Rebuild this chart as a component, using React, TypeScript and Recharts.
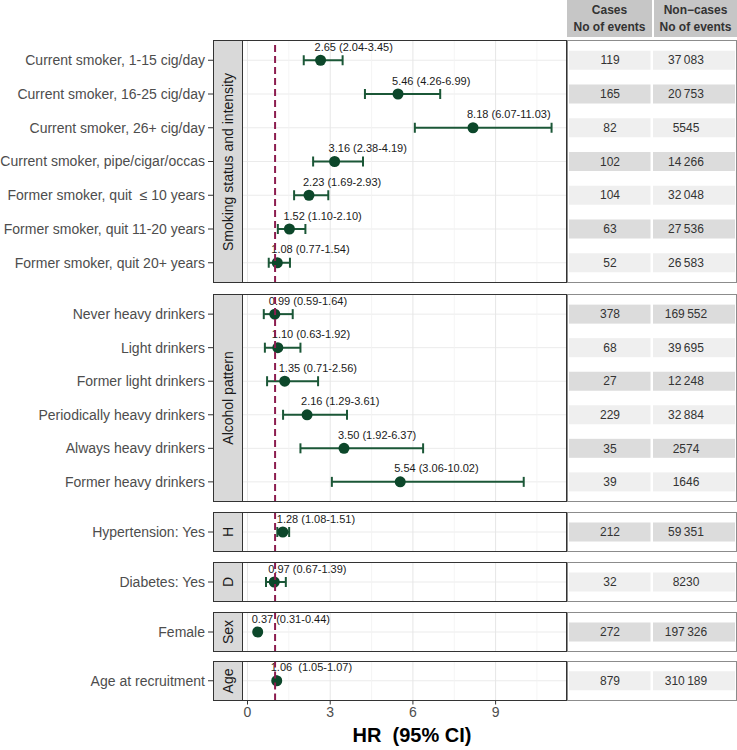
import React from 'react';
import { ComposedChart, Line, XAxis, YAxis, CartesianGrid, ReferenceLine, ErrorBar } from 'recharts';

const FONT = '"Liberation Sans", Arial, Helvetica, sans-serif';

// Smoking status and intensity
const SMOKING_LABELS = [
  'Current smoker, 1-15 cig/day',
  'Current smoker, 16-25 cig/day',
  'Current smoker, 26+ cig/day',
  'Current smoker, pipe/cigar/occas',
  'Former smoker, quit  \u2264 10 years',
  'Former smoker, quit 11-20 years',
  'Former smoker, quit 20+ years',
];
const SMOKING_HR = [2.65, 5.46, 8.18, 3.16, 2.23, 1.52, 1.08];
const SMOKING_LOW = [2.04, 4.26, 6.07, 2.38, 1.69, 1.1, 0.77];
const SMOKING_HIGH = [3.45, 6.99, 11.03, 4.19, 2.93, 2.1, 1.54];
const SMOKING_CASES = ['119', '165', '82', '102', '104', '63', '52'];
const SMOKING_NONCASES = ['37\u2009083', '20\u2009753', '5545', '14\u2009266', '32\u2009048', '27\u2009536', '26\u2009583'];

// Alcohol pattern
const ALCOHOL_LABELS = [
  'Never heavy drinkers',
  'Light drinkers',
  'Former light drinkers',
  'Periodically heavy drinkers',
  'Always heavy drinkers',
  'Former heavy drinkers',
];
const ALCOHOL_HR = [0.99, 1.1, 1.35, 2.16, 3.5, 5.54];
const ALCOHOL_LOW = [0.59, 0.63, 0.71, 1.29, 1.92, 3.06];
const ALCOHOL_HIGH = [1.64, 1.92, 2.56, 3.61, 6.37, 10.02];
const ALCOHOL_CASES = ['378', '68', '27', '229', '35', '39'];
const ALCOHOL_NONCASES = ['169\u2009552', '39\u2009695', '12\u2009248', '32\u2009884', '2574', '1646'];

// single-row panels
const HYPER_LABELS = ['Hypertension: Yes'];
const HYPER_HR = [1.28];
const HYPER_LOW = [1.08];
const HYPER_HIGH = [1.51];
const HYPER_CASES = ['212'];
const HYPER_NONCASES = ['59\u2009351'];

const DIAB_LABELS = ['Diabetes: Yes'];
const DIAB_HR = [0.97];
const DIAB_LOW = [0.67];
const DIAB_HIGH = [1.39];
const DIAB_CASES = ['32'];
const DIAB_NONCASES = ['8230'];

const SEX_LABELS = ['Female'];
const SEX_HR = [0.37];
const SEX_LOW = [0.31];
const SEX_HIGH = [0.44];
const SEX_CASES = ['272'];
const SEX_NONCASES = ['197\u2009326'];

const AGE_LABELS = ['Age at recruitment'];
const AGE_HR = [1.06];
const AGE_LOW = [1.05];
const AGE_HIGH = [1.07];
const AGE_CASES = ['879'];
const AGE_NONCASES = ['310\u2009189'];

const X_TICKS = [0, 3, 6, 9];
const X_MINOR = [1.5, 4.5, 7.5, 10.5];
const X_DOMAIN: [number, number] = [-0.2, 11.59];
const REF_HR = 1;

const TABLE_HEADERS = [
  ['Cases', 'No of events'],
  ['Non\u2212cases', 'No of events'],
];

// layout
const PLOT_LEFT = 242;
const PLOT_W = 325;
const TABLE_W = 170;
const STRIP_W = 29;
const TABLE_LEFT = PLOT_LEFT + PLOT_W;

const DOT = '#0c472a';
const BAR = '#1b5737';
const REF = '#8c1d4f';

let rowCounter = 0;
function buildRows(labels, hr, low, high, cases, noncases, sep = ' ') {
  return labels.map((label, i) => ({
    label,
    hr: hr[i],
    err: [hr[i] - low[i], high[i] - hr[i]],
    text: `${hr[i].toFixed(2)}${sep}(${low[i].toFixed(2)}-${high[i].toFixed(2)})`,
    cases: cases[i],
    noncases: noncases[i],
    shade: rowCounter++ % 2 === 1,
  }));
}

const PANELS = [
  { strip: 'Smoking status and intensity', top: 40, height: 243, rows: buildRows(SMOKING_LABELS, SMOKING_HR, SMOKING_LOW, SMOKING_HIGH, SMOKING_CASES, SMOKING_NONCASES) },
  { strip: 'Alcohol pattern', top: 294, height: 208, rows: buildRows(ALCOHOL_LABELS, ALCOHOL_HR, ALCOHOL_LOW, ALCOHOL_HIGH, ALCOHOL_CASES, ALCOHOL_NONCASES) },
  { strip: 'H', top: 512, height: 40, rows: buildRows(HYPER_LABELS, HYPER_HR, HYPER_LOW, HYPER_HIGH, HYPER_CASES, HYPER_NONCASES) },
  { strip: 'D', top: 562, height: 40, rows: buildRows(DIAB_LABELS, DIAB_HR, DIAB_LOW, DIAB_HIGH, DIAB_CASES, DIAB_NONCASES) },
  { strip: 'Sex', top: 612, height: 40, rows: buildRows(SEX_LABELS, SEX_HR, SEX_LOW, SEX_HIGH, SEX_CASES, SEX_NONCASES) },
  { strip: 'Age', top: 661, height: 39.5, rows: buildRows(AGE_LABELS, AGE_HR, AGE_LOW, AGE_HIGH, AGE_CASES, AGE_NONCASES, '  ') },
];

const LeftTick = (props: any) => {
  const { y, payload } = props;
  const xEnd = PLOT_LEFT - STRIP_W;
  return (
    <g>
      <line x1={xEnd - 5} x2={xEnd} y1={y} y2={y} stroke="#333" strokeWidth={1} />
      <text x={xEnd - 8} y={y} dy="0.35em" textAnchor="end" fontSize={14} fill="#4d4d4d" xmlSpace="preserve" style={{ whiteSpace: 'pre' }}>
        {payload.value}
      </text>
    </g>
  );
};

const tableTick = (rows) => (props: any) => {
  const { y, index, payload } = props;
  const row = rows[index] && rows[index].label === payload.value ? rows[index] : rows.find((r) => r.label === payload.value);
  if (!row) return null;
  const fill = row.shade ? '#dcdcdc' : '#efefef';
  return (
    <g>
      <rect x={TABLE_LEFT + 2} y={y - 9.5} width={81.5} height={19} fill={fill} />
      <rect x={TABLE_LEFT + 86} y={y - 9.5} width={82} height={19} fill={fill} />
      <text x={TABLE_LEFT + 43} y={y} dy="0.35em" textAnchor="middle" fontSize={12} fill="#333">{row.cases}</text>
      <text x={TABLE_LEFT + 119} y={y} dy="0.35em" textAnchor="middle" fontSize={12} fill="#333">{row.noncases}</text>
    </g>
  );
};

const renderPoint = (props: any) => {
  const { cx, cy, index, payload } = props;
  if (cx == null || cy == null) return <g key={`pt-${index}`} />;
  return (
    <g key={`pt-${index}`}>
      <circle cx={cx} cy={cy} r={5.5} fill={DOT} />
      <text x={cx - 6} y={cy - 9.5} fontSize={11} fill="#1a1a1a" xmlSpace="preserve" style={{ whiteSpace: 'pre' }}>
        {payload.text}
      </text>
    </g>
  );
};

function Panel({ panel, isLast }) {
  const n = panel.rows.length;
  // ggplot discrete expansion: 0.6 of a row step at each end (point scale)
  const pad = Math.min((0.6 * panel.height) / (n + 0.2), panel.height / 2 - 0.5);
  const axisH = isLast ? 26 : 0;
  return (
    <>
      <div
        style={{
          position: 'absolute', left: PLOT_LEFT - STRIP_W, top: panel.top, width: STRIP_W + 1, height: panel.height,
          background: '#d9d9d9', border: '1px solid #333', boxSizing: 'border-box',
          display: 'flex', alignItems: 'center', justifyContent: 'center', overflow: 'hidden',
        }}
      >
        <span style={{ transform: 'rotate(-90deg)', whiteSpace: 'nowrap', fontSize: 14, color: '#1a1a1a' }}>{panel.strip}</span>
      </div>
      <div
        style={{
          position: 'absolute', left: TABLE_LEFT, top: panel.top, width: TABLE_W, height: panel.height,
          border: '1px solid #8c8c8c', boxSizing: 'border-box',
        }}
      />
      <div style={{ position: 'absolute', left: 0, top: panel.top }}>
        <ComposedChart
          width={PLOT_LEFT + PLOT_W + TABLE_W}
          height={panel.height + axisH}
          data={panel.rows}
          layout="vertical"
          margin={{ top: 0, right: 0, bottom: 0, left: 0 }}
        >
          <CartesianGrid horizontal vertical={false} stroke="#ebebeb" strokeWidth={1} />
          {X_MINOR.map((v) => (
            <ReferenceLine key={`mn-${v}`} x={v} stroke="#f2f2f2" strokeWidth={0.8} />
          ))}
          {X_TICKS.map((v) => (
            <ReferenceLine key={`mj-${v}`} x={v} stroke="#e6e6e6" strokeWidth={1} />
          ))}
          <XAxis
            type="number"
            dataKey="hr"
            domain={X_DOMAIN}
            ticks={X_TICKS}
            allowDataOverflow
            hide={!isLast}
            height={axisH}
            axisLine={false}
            tickLine={{ stroke: '#333' }}
            tickSize={4}
            tickMargin={3}
            tick={{ fill: '#4d4d4d', fontSize: 14 }}
          />
          <YAxis
            type="category"
            dataKey="label"
            width={PLOT_LEFT}
            axisLine={false}
            tickLine={false}
            interval={0}
            padding={{ top: pad, bottom: pad }}
            tick={<LeftTick />}
          />
          <YAxis
            yAxisId="table"
            orientation="right"
            type="category"
            dataKey="label"
            width={TABLE_W}
            axisLine={false}
            tickLine={false}
            interval={0}
            padding={{ top: pad, bottom: pad }}
            tick={tableTick(panel.rows)}
          />
          <Line yAxisId="table" dataKey="hr" stroke="none" dot={false} activeDot={false} isAnimationActive={false} />
          <Line dataKey="hr" stroke="none" dot={renderPoint} activeDot={false} isAnimationActive={false}>
            <ErrorBar dataKey="err" direction="x" width={5} stroke={BAR} strokeWidth={2} />
          </Line>
          <ReferenceLine x={REF_HR} stroke={REF} strokeWidth={2} strokeDasharray="7 4" zIndex={1500} />
        </ComposedChart>
      </div>
      <div
        style={{
          position: 'absolute', left: PLOT_LEFT, top: panel.top, width: PLOT_W, height: panel.height,
          border: '1px solid #333', boxSizing: 'border-box', pointerEvents: 'none',
        }}
      />
    </>
  );
}

export default function App() {
  return (
    <div style={{ position: 'absolute', left: 0, top: 0, width: 737, height: 750, background: '#fff', fontFamily: FONT }}>
      {TABLE_HEADERS.map((lines, i) => (
        <div
          key={i}
          style={{
            position: 'absolute', left: i === 0 ? TABLE_LEFT : TABLE_LEFT + 87, top: 0,
            width: i === 0 ? 85 : 83, height: 37, background: '#c6c6c6',
            textAlign: 'center', fontSize: 12, fontWeight: 'bold', color: '#333',
            lineHeight: '17px', paddingTop: 2, boxSizing: 'border-box',
          }}
        >
          {lines.map((l) => (
            <div key={l}>{l}</div>
          ))}
        </div>
      ))}
      {PANELS.map((p, i) => (
        <Panel key={p.strip} panel={p} isLast={i === PANELS.length - 1} />
      ))}
      <div
        style={{
          position: 'absolute', left: 312, top: 725, width: 200, textAlign: 'center',
          fontSize: 20, fontWeight: 'bold', lineHeight: '20px', whiteSpace: 'pre', color: '#000',
        }}
      >
        {'HR  (95% CI)'}
      </div>
    </div>
  );
}
